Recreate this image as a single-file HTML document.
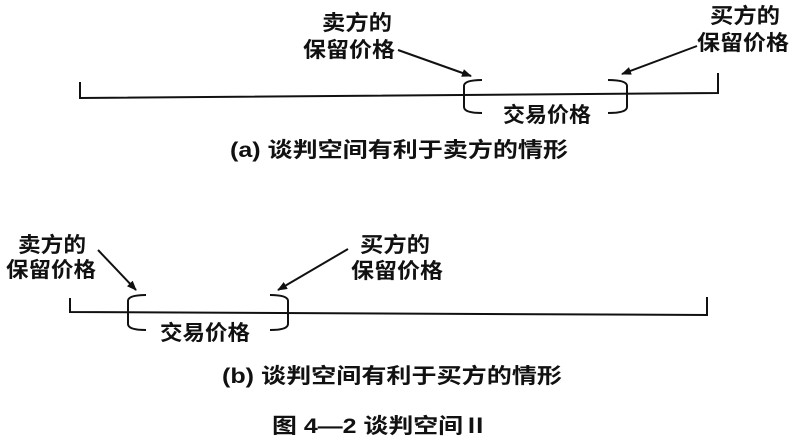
<!DOCTYPE html>
<html><head><meta charset="utf-8"><style>
html,body{margin:0;padding:0;background:#fff;}
svg{display:block}
text{font-family:"Liberation Sans","Noto Sans CJK SC",sans-serif;fill:#111;font-weight:bold}
</style></head><body>
<svg width="800" height="446" viewBox="0 0 800 446">
<defs><marker id="ah" markerWidth="10" markerHeight="8" refX="9" refY="4" orient="auto" markerUnits="userSpaceOnUse"><path d="M0,0 L10,4 L0,8 Z" fill="#111"/></marker></defs>
<g stroke="#111" stroke-width="2" fill="none">
<!-- (a) -->
<polyline points="80,82 80,98 718,93 718,73"/>
<path d="M482,80 Q464,80 464,86 L464,107 Q464,113 482,113"/>
<path d="M608,80 Q627,80 627,86 L627,107 Q627,113 608,113"/>
<line x1="398" y1="50" x2="471" y2="76" marker-end="url(#ah)"/>
<line x1="697" y1="46" x2="622" y2="74" marker-end="url(#ah)"/>
<!-- (b) -->
<polyline points="70,298 70,312 707,315 707,297"/>
<path d="M146,295 Q128,295 128,301 L128,324 Q128,330 146,330"/>
<path d="M270,295 Q288,295 288,301 L288,324 Q288,330 270,330"/>
<line x1="98" y1="250" x2="136" y2="290" marker-end="url(#ah)"/>
<line x1="348" y1="249" x2="278" y2="290" marker-end="url(#ah)"/>
</g>
<g font-size="21">
<text x="322" y="30" textLength="70" lengthAdjust="spacingAndGlyphs">卖方的</text>
<text x="303" y="57" textLength="92" lengthAdjust="spacingAndGlyphs">保留价格</text>
<text x="710" y="23" textLength="70" lengthAdjust="spacingAndGlyphs">买方的</text>
<text x="697" y="50" textLength="92" lengthAdjust="spacingAndGlyphs">保留价格</text>
<text x="503" y="122" textLength="88" lengthAdjust="spacingAndGlyphs">交易价格</text>
<text x="230" y="157" textLength="338" lengthAdjust="spacingAndGlyphs">(a) 谈判空间有利于卖方的情形</text>
<text x="18" y="252" textLength="68" lengthAdjust="spacingAndGlyphs">卖方的</text>
<text x="6" y="277" textLength="90" lengthAdjust="spacingAndGlyphs">保留价格</text>
<text x="360" y="252" textLength="70" lengthAdjust="spacingAndGlyphs">买方的</text>
<text x="351" y="278" textLength="92" lengthAdjust="spacingAndGlyphs">保留价格</text>
<text x="160" y="340" textLength="90" lengthAdjust="spacingAndGlyphs">交易价格</text>
<text x="222" y="383" textLength="340" lengthAdjust="spacingAndGlyphs">(b) 谈判空间有利于买方的情形</text>
<text x="272" y="433" textLength="216" lengthAdjust="spacingAndGlyphs">图 4—2  谈判空间Ⅱ</text>
</g>
</svg>
</body></html>
